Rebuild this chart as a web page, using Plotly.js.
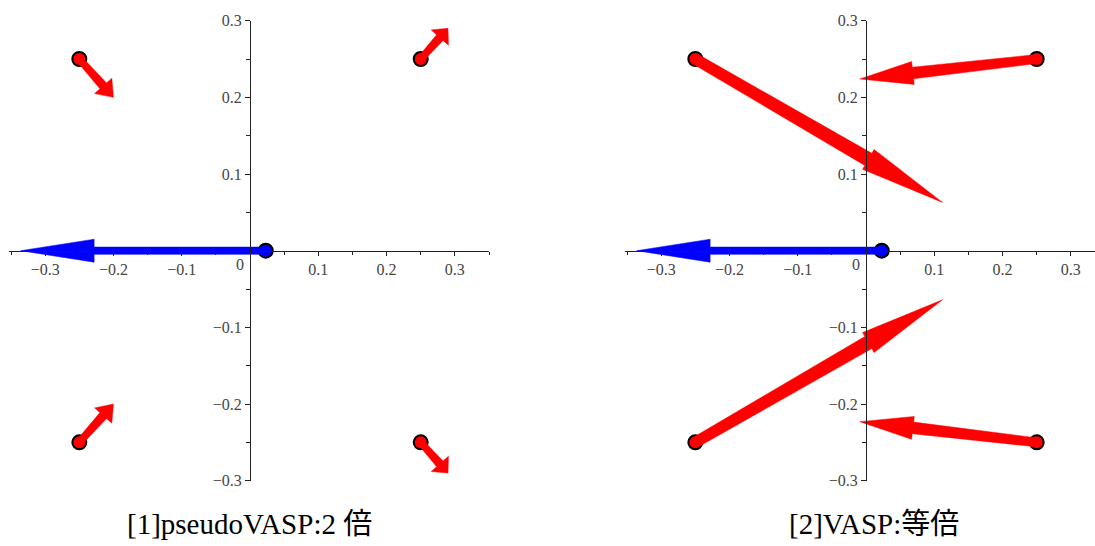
<!DOCTYPE html>
<html><head><meta charset="utf-8">
<script src="https://cdn.plot.ly/plotly-3.0.1.min.js"></script>
<style>html,body{margin:0;padding:0;background:#fff}#chart{width:1095px;height:546px}</style>
</head><body><div id="chart"></div>
<script>
// ---- data ----
const redX = [-0.25, 0.25, -0.25, 0.25];
const redY = [0.25, 0.25, -0.25, -0.25];
const blueX = [0.023];
const blueY = [0];
const leftTipX = [-0.2, 0.29, -0.2, 0.29];
const leftTipY = [0.2, 0.29, -0.2, -0.29];
const leftBlueTipX = [-0.336];
const leftBlueTipY = [0];
const rightTipX = [0.112, -0.009, 0.112, -0.009];
const rightTipY = [0.063, 0.224, -0.064, -0.223];
const rightBlueTipX = [-0.336];
const rightBlueTipY = [0];
const captions = ['[1]pseudoVASP:2 倍', '[2]VASP:等倍'];
const tickVals = [-0.3, -0.2, -0.1, 0.1, 0.2, 0.3];
const minorVals = [-0.35, -0.25, -0.15, -0.05, 0.05, 0.15, 0.25, 0.35];

// ---- layout geometry ----
const W = 1095, H = 546;
const yRange = [-0.3, 0.3];
const yDomPx = [20.7, 480.7];               // top, bottom in px
const yDom = [(H - yDomPx[1]) / H, (H - yDomPx[0]) / H];
const xMin = -0.353;
const leftPx = [9, 489], rightPx = [625, 1095];
const sx = (leftPx[1] - leftPx[0]) / 0.703;
const sy = (yDomPx[1] - yDomPx[0]) / (yRange[1] - yRange[0]);
const leftRange = [xMin, xMin + (leftPx[1] - leftPx[0]) / sx];
const rightRange = [xMin, xMin + (rightPx[1] - rightPx[0]) / sx];
const leftDom = [leftPx[0] / W, leftPx[1] / W];
const rightDom = [rightPx[0] / W, rightPx[1] / W];

function arrowPoly(x0, y0, x1, y1, shaftStart, shaftEnd) {
  const px0 = x0 * sx, py0 = y0 * sy, px1 = x1 * sx, py1 = y1 * sy;
  const dx = px1 - px0, dy = py1 - py0, L = Math.hypot(dx, dy);
  const ux = dx / L, uy = dy / L, nx = -uy, ny = ux;
  const hl = 0.3 * L, hw = 11.5;
  const bx = px1 - ux * hl, by = py1 - uy * hl;
  const ws = shaftStart / 2, we = shaftEnd / 2;
  const pts = [
    [px0 + nx * ws, py0 + ny * ws],
    [bx + nx * we, by + ny * we],
    [bx + nx * hw, by + ny * hw],
    [px1, py1],
    [bx - nx * hw, by - ny * hw],
    [bx - nx * we, by - ny * we],
    [px0 - nx * ws, py0 - ny * ws]
  ];
  return { x: pts.map(p => p[0] / sx), y: pts.map(p => p[1] / sy) };
}

function panelTraces(xa, ya, tipX, tipY, bTipX, bTipY) {
  const tr = [];
  tr.push({ type: 'scatter', mode: 'markers', x: redX, y: redY, xaxis: xa, yaxis: ya,
    marker: { size: 14, color: '#ff0000', line: { color: '#000', width: 2 } }, hoverinfo: 'skip' });
  tr.push({ type: 'scatter', mode: 'markers', x: blueX, y: blueY, xaxis: xa, yaxis: ya,
    marker: { size: 14, color: '#0000ff', line: { color: '#000', width: 2 } }, hoverinfo: 'skip' });
  for (let i = 0; i < redX.length; i++) {
    const L = Math.hypot((tipX[i] - redX[i]) * sx, (tipY[i] - redY[i]) * sy);
    const w = 7 + 0.02 * L;
    const p = arrowPoly(redX[i], redY[i], tipX[i], tipY[i], 0.85 * w, 1.1 * w);
    tr.push({ type: 'scatter', mode: 'lines', x: p.x, y: p.y, xaxis: xa, yaxis: ya,
      fill: 'toself', fillcolor: '#ff0000', line: { color: '#ff0000', width: 0.5 }, hoverinfo: 'skip' });
  }
  for (let i = 0; i < blueX.length; i++) {
    const p = arrowPoly(blueX[i], blueY[i], bTipX[i], bTipY[i], 7.3, 7.3);
    tr.push({ type: 'scatter', mode: 'lines', x: p.x, y: p.y, xaxis: xa, yaxis: ya,
      fill: 'toself', fillcolor: '#0000ff', line: { color: '#0000ff', width: 0.5 }, hoverinfo: 'skip' });
  }
  return tr;
}

const data = [].concat(
  panelTraces('x', 'y', leftTipX, leftTipY, leftBlueTipX, leftBlueTipY),
  panelTraces('x2', 'y2', rightTipX, rightTipY, rightBlueTipX, rightBlueTipY)
);

const tickFont = { family: '"Liberation Serif", "Times New Roman", serif', size: 16, color: '#444' };
function xAxis(dom, range) {
  return { domain: dom, range: range, anchor: 'free', position: (yDom[0] + yDom[1]) / 2,
    showgrid: false, zeroline: false, showline: true, linecolor: '#222', linewidth: 1.2,
    tickmode: 'array', tickvals: tickVals, ticks: 'outside', ticklen: 4, tickwidth: 1, tickcolor: '#222',
    minor: { tickmode: 'array', tickvals: minorVals, ticks: 'outside', ticklen: 3, tickcolor: '#222' },
    tickfont: tickFont, fixedrange: true, layer: 'above traces' };
}
function yAxis(xdom, xrange) {
  const pos = xdom[0] + (0 - xrange[0]) / (xrange[1] - xrange[0]) * (xdom[1] - xdom[0]);
  return { domain: yDom, range: yRange, anchor: 'free', position: pos,
    showgrid: false, zeroline: false, showline: true, linecolor: '#222', linewidth: 1.2,
    tickmode: 'array', tickvals: tickVals, ticks: 'outside', ticklen: 5, tickwidth: 1, tickcolor: '#222',
    minor: { tickmode: 'array', tickvals: minorVals.filter(v => Math.abs(v) < 0.3), ticks: 'outside', ticklen: 4, tickcolor: '#222' },
    tickfont: tickFont, fixedrange: true, layer: 'above traces' };
}

const capFont = { family: '"Liberation Serif", "Noto Sans CJK JP", serif', size: 29, color: '#000' };
const layout = {
  width: W, height: H, margin: { l: 0, r: 0, t: 0, b: 0 },
  paper_bgcolor: '#fff', plot_bgcolor: 'rgba(0,0,0,0)', showlegend: false,
  xaxis: xAxis(leftDom, leftRange), yaxis: yAxis(leftDom, leftRange),
  xaxis2: xAxis(rightDom, rightRange), yaxis2: yAxis(rightDom, rightRange),
  annotations: [
    { xref: 'x', yref: 'y', x: 0, y: 0, text: '0', showarrow: false, xanchor: 'right', yanchor: 'top', xshift: -4, yshift: -3, font: tickFont },
    { xref: 'x2', yref: 'y2', x: 0, y: 0, text: '0', showarrow: false, xanchor: 'right', yanchor: 'top', xshift: -4, yshift: -3, font: tickFont },
    { xref: 'paper', yref: 'paper', x: 249 / W, y: (H - 524) / H, text: captions[0], showarrow: false, xanchor: 'center', yanchor: 'middle', font: capFont },
    { xref: 'paper', yref: 'paper', x: 874 / W, y: (H - 524) / H, text: captions[1], showarrow: false, xanchor: 'center', yanchor: 'middle', font: capFont }
  ]
};
Plotly.newPlot('chart', data, layout, { staticPlot: true, displayModeBar: false });
</script></body></html>
